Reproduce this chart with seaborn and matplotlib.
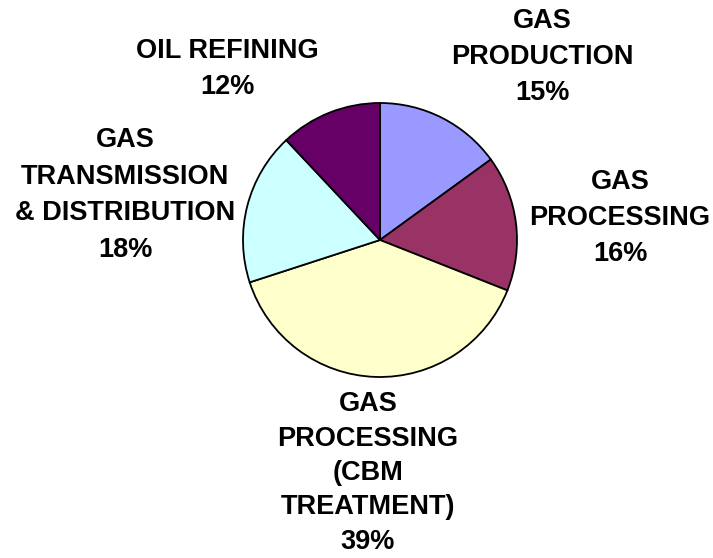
import matplotlib
matplotlib.use("Agg")
import matplotlib.pyplot as plt
import seaborn as sns

# Emission share by segment, clockwise from 12 o'clock
segments = [
    "GAS\nPRODUCTION",
    "GAS\nPROCESSING",
    "GAS\nPROCESSING\n(CBM\nTREATMENT)",
    "GAS\nTRANSMISSION\n& DISTRIBUTION",
    "OIL REFINING",
]
shares = [15, 16, 39, 18, 12]
colors = ["#9999FF", "#993366", "#FFFFCC", "#CCFFFF", "#660066"]

# Label block centres in figure pixels (x from left, y from top) and line spacing
label_xy = [(542, 57), (620, 218), (368, 473), (125, 195), (227, 69)]
label_ls = [1.52, 1.52, 1.42, 1.52, 1.52]

sns.set_theme(style="white")
plt.rcParams["font.family"] = ["Liberation Sans", "DejaVu Sans"]

W, H = 713, 558
fig = plt.figure(figsize=(W / 100, H / 100), dpi=100)
ax = fig.add_axes([0, 0, 1, 1])

ax.pie(
    shares,
    colors=sns.color_palette(colors),
    startangle=90,
    counterclock=False,
    center=(380, H - 240),
    radius=137,
    wedgeprops=dict(edgecolor="black", linewidth=1.3),
)

for name, val, (px, py), ls in zip(segments, shares, label_xy, label_ls):
    ax.text(px, H - py, f"{name}\n{val}%", ha="center", va="center",
            fontsize=19.5, fontweight="bold", color="black",
            multialignment="center", linespacing=ls)

ax.set_xlim(0, W)
ax.set_ylim(0, H)
ax.set_aspect("auto")
ax.axis("off")

fig.savefig("out.png", dpi=100, facecolor="white")
